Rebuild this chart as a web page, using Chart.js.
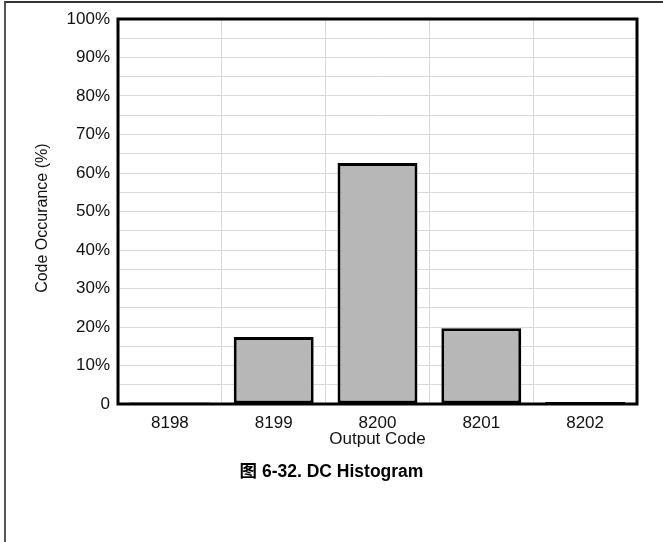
<!DOCTYPE html>
<html>
<head>
<meta charset="utf-8">
<script src="https://cdn.jsdelivr.net/npm/chart.js@4.4.1/dist/chart.umd.min.js"></script>
<style>
    html, body { margin: 0; padding: 0; background: #fff; }
    #wrap { position: relative; width: 663px; height: 542px; overflow: hidden; }
    #frame { position: absolute; left: 4px; top: 1px; width: 670px; height: 560px;
             border-top: 2px solid #333; border-left: 2px solid #555; box-sizing: border-box; }
    #chartBox { position: absolute; left: 0; top: 0; width: 663px; height: 460px; }
    #caption { position: absolute; left: 0; top: 457px; width: 663px; text-align: center;
               line-height: 22px;
               font: bold 17.5px "Liberation Sans", Arial, "Noto Sans CJK SC", sans-serif; color: #000; }
</style>
</head>
<body>
<div id="wrap">
    <div id="frame"></div>
    <div id="chartBox"><canvas id="histChart"></canvas></div>
    <div id="caption">图 6-32. DC Histogram</div>
</div>
<script>
const codes = ['8198', '8199', '8200', '8201', '8202'];
const occurrence = [0.4, 17.4, 62.6, 19.7, 0.5];
const yTicks = [0, 5, 10, 15, 20, 25, 30, 35, 40, 45, 50, 55, 60, 65, 70, 75, 80, 85, 90, 95, 100];

const FONT = '"Liberation Sans", Arial, sans-serif';

// black frame round the plot area
const plotFrame = {
    id: 'plotFrame',
    afterDatasetsDraw(chart) {
        let a = chart.chartArea;
        let ctx = chart.ctx;
        ctx.save();
        ctx.strokeStyle = '#000';
        ctx.lineWidth = 3;
        ctx.strokeRect(a.left, a.top, a.right - a.left, a.bottom - a.top);
        ctx.restore();
    }
};

new Chart(document.getElementById('histChart'), {
    type: 'bar',
    data: {
        labels: codes,
        datasets: [{
            data: occurrence,
            backgroundColor: '#b7b7b7',
            borderColor: '#000',
            borderWidth: 3,
            borderSkipped: false,
            barPercentage: 0.77,
            categoryPercentage: 1.0
        }]
    },
    options: {
        responsive: true,
        maintainAspectRatio: false,
        animation: false,
        layout: { padding: { top: 19, right: 26, left: 0, bottom: 10 } },
        plugins: {
            legend: { display: false },
            tooltip: { enabled: false }
        },
        scales: {
            x: {
                grid: { color: '#d9d9d9', lineWidth: 1, drawTicks: false, offset: true },
                border: { display: false },
                ticks: { color: '#111', font: { family: FONT, size: 17 }, padding: 9 },
                title: { display: true, text: 'Output Code', color: '#111',
                         font: { family: FONT, size: 17 }, padding: 0 },
                afterFit(scale) { scale.height = 46; }
            },
            y: {
                min: 0,
                max: 100,
                afterBuildTicks(scale) { scale.ticks = yTicks.map(v => ({ value: v })); },
                grid: { color: '#d9d9d9', lineWidth: 1, drawTicks: false },
                border: { display: false },
                ticks: {
                    autoSkip: false,
                    color: '#111',
                    font: { family: FONT, size: 17 },
                    padding: 8,
                    callback: v => v % 10 !== 0 ? '' : (v === 0 ? '0' : v + '%')
                },
                title: { display: true, text: 'Code Occurance (%)   ', color: '#111',
                         font: { family: FONT, size: 16 }, padding: { top: 33, bottom: 0 } },
                afterFit(scale) { scale.width = 118; }
            }
        }
    },
    plugins: [plotFrame]
});
</script>
</body>
</html>
